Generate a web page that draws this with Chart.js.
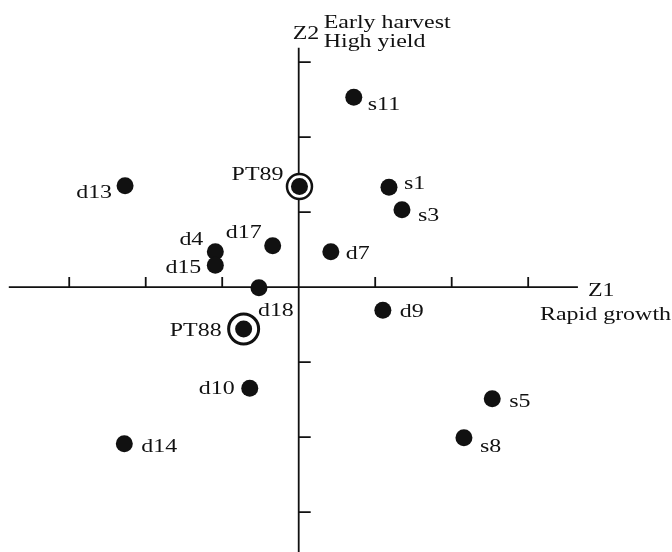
<!DOCTYPE html>
<html>
<head>
<meta charset="utf-8">
<script src="https://cdn.jsdelivr.net/npm/chart.js@4"></script>
<style>
  body { margin: 0; background: #fff; }
  canvas { display: block; }
</style>
</head>
<body>
<canvas id="chart" width="672" height="552"></canvas>
<script>
// point names and scores on the two axes (Z1 = rapid growth, Z2 = early harvest / high yield)
const names = ["s11","PT89","d13","s1","s3","d17","d7","d4","d15","d18","d9","PT88","d10","s5","s8","d14"];
const z1 = [0.72, 0.01, -2.27, 1.18, 1.35, -0.34, 0.42, -1.09, -1.09, -0.52, 1.10, -0.72, -0.64, 2.53, 2.16, -2.28];
const z2 = [2.53, 1.34, 1.35, 1.33, 1.03, 0.55, 0.47, 0.47, 0.29, -0.01, -0.31, -0.56, -1.35, -1.49, -2.01, -2.09];
// the circled reference points
const ringed = ["PT89","PT88"];
const axisTicks = [-3, -2, -1, 1, 2, 3];

// label placement next to each dot: [dx, dy, align]
const labelPos = {
  s11: [14, 13, "left"], PT89: [-16, -7, "right"], d13: [-13, 12, "right"],
  s1: [15, 2, "left"], s3: [16, 11, "left"], d17: [-11, -8, "right"],
  d7: [15, 7, "left"], d4: [-12, -7, "right"], d15: [-14, 8, "right"],
  d18: [-1, 28, "left"], d9: [17, 7, "left"], PT88: [-22, 7, "right"],
  d10: [-15, 6, "right"], s5: [17, 8, "left"], s8: [16, 14, "left"],
  d14: [17, 8, "left"]
};

const pts = names.map((n, i) => ({x: z1[i], y: z2[i], name: n}));
const ringPts = pts.filter(p => ringed.includes(p.name));

const FONT = '19px "Liberation Serif", "Times New Roman", serif';
const STRETCH = 1.26;

function stretchedText(ctx, txt, x, y, align) {
  ctx.save();
  ctx.translate(x, y);
  ctx.scale(STRETCH, 1);
  ctx.textAlign = align;
  ctx.fillText(txt, 0, 0);
  ctx.restore();
}

const axesPlugin = {
  id: "crossAxes",
  beforeDatasetsDraw(chart) {
    const {ctx, scales: {x, y}} = chart;
    const x0 = x.getPixelForValue(0), y0 = y.getPixelForValue(0);
    ctx.save();
    ctx.strokeStyle = "#111";
    ctx.lineWidth = 1.8;
    ctx.beginPath();
    ctx.moveTo(x.getPixelForValue(-3.79), y0);
    ctx.lineTo(x.getPixelForValue(3.65), y0);
    ctx.moveTo(x0, y.getPixelForValue(3.19));
    ctx.lineTo(x0, y.getPixelForValue(-3.6));
    axisTicks.forEach(t => {
      const px = x.getPixelForValue(t);
      ctx.moveTo(px, y0);
      ctx.lineTo(px, y0 - 10);
      const py = y.getPixelForValue(t);
      ctx.moveTo(x0, py);
      ctx.lineTo(x0 + 12, py);
    });
    ctx.stroke();

    ctx.fillStyle = "#111";
    ctx.font = FONT;
    ctx.textBaseline = "alphabetic";
    stretchedText(ctx, "Z2", x0 - 6, 39, "left");
    stretchedText(ctx, "Early harvest", x0 + 25, 28, "left");
    stretchedText(ctx, "High yield", x0 + 25, 47, "left");
    stretchedText(ctx, "Z1", 588, y0 + 9, "left");
    stretchedText(ctx, "Rapid growth", 671, y0 + 33, "right");
    ctx.restore();
  },
  afterDatasetsDraw(chart) {
    const {ctx} = chart;
    const meta = chart.getDatasetMeta(0);
    ctx.save();
    ctx.fillStyle = "#111";
    ctx.font = FONT;
    ctx.textBaseline = "alphabetic";
    meta.data.forEach((el, i) => {
      const n = names[i];
      const [dx, dy, align] = labelPos[n];
      stretchedText(ctx, n, el.x + dx, el.y + dy, align);
    });
    ctx.restore();
  }
};

new Chart(document.getElementById("chart"), {
  type: "scatter",
  data: {
    datasets: [
      {
        data: pts,
        pointRadius: 8.5,
        pointBackgroundColor: "#111",
        pointBorderWidth: 0
      },
      {
        data: ringPts,
        pointRadius: ringPts.map(p => p.name === "PT88" ? 15 : 12.5),
        pointBackgroundColor: "#fff",
        pointBorderColor: "#111",
        pointBorderWidth: ringPts.map(p => p.name === "PT88" ? 3 : 2.5)
      }
    ]
  },
  options: {
    responsive: false,
    animation: false,
    layout: {padding: 0, autoPadding: false},
    plugins: {legend: {display: false}, tooltip: {enabled: false}},
    scales: {
      x: {display: false, min: -3.905, max: 4.88},
      y: {display: false, min: -3.533, max: 3.827}
    }
  },
  plugins: [axesPlugin]
});
</script>
</body>
</html>
